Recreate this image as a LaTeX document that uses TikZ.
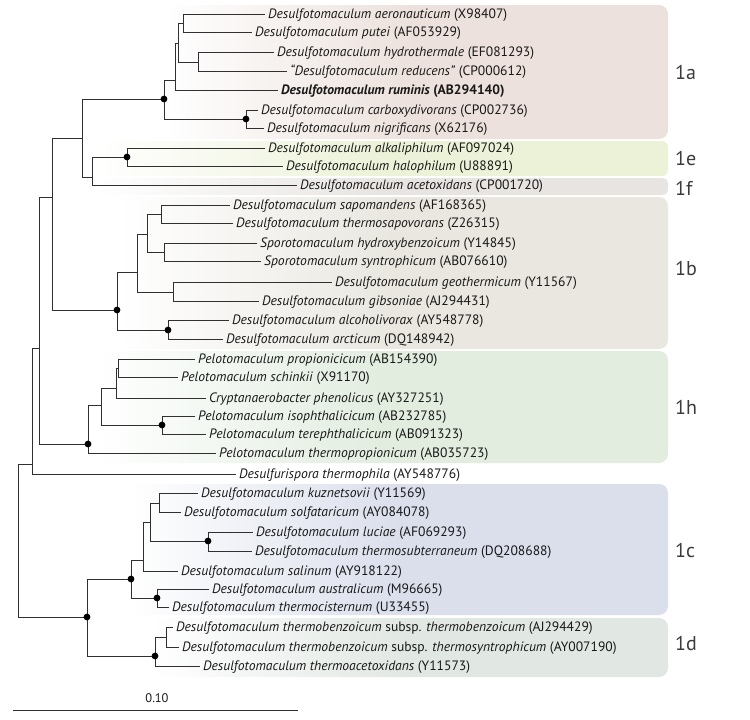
\documentclass[tikz,border=0pt]{standalone}
\usepackage{fontspec}
\setmainfont{PT Sans}
\newcommand{\taxon}[2]{\textit{#1} (#2)}
\definecolor{cA}{RGB}{236,225,220}
\definecolor{cE}{RGB}{236,242,216}
\definecolor{cF}{RGB}{232,228,226}
\definecolor{cB}{RGB}{233,231,224}
\definecolor{cH}{RGB}{226,237,224}
\definecolor{cC}{RGB}{219,223,236}
\definecolor{cD}{RGB}{225,231,227}
\definecolor{ink}{RGB}{25,25,25}
\begin{document}
\begin{tikzpicture}[x=1pt,y=-1pt,
  br/.style={draw=ink!90, line width=0.8pt},
  leaf/.style={anchor=west, inner xsep=3pt, inner ysep=0pt, text=ink,
    font=\fontsize{13.6}{15}\selectfont, text height=9.8pt, text depth=0.2pt},
  clade/.style={anchor=west, inner sep=0pt, text=ink!85, font=\fontsize{20}{23}\selectfont},
  dot/.style={fill=black, circle, inner sep=0pt, minimum size=6.8pt},
  box/.style={rounded corners=9pt, left color=white, right color=#1, middle color=#1}
]
\useasboundingbox (0,0) rectangle (750,720);

% clade backgrounds
\shade[box=cA] (165,5) rectangle (668,139);
\shade[box=cE, rounded corners=6pt] (95,141) rectangle (668,176);
\shade[box=cF, rounded corners=5pt] (95,178) rectangle (668,195);
\shade[box=cB] (120,197) rectangle (668,349);
\shade[box=cH] (95,351) rectangle (668,463);
\shade[box=cC] (130,484) rectangle (668,615);
\shade[box=cD] (150,618) rectangle (668,677);

% clade labels
\node[clade] (k1a) at (675,72) {1a};
\node[clade] (k1e) at (675,158) {1e};
\node[clade] (k1f) at (675,188) {1f};
\node[clade] (k1b) at (675,268) {1b};
\node[clade] (k1h) at (675,407) {1h};
\node[clade] (k1c) at (675,550) {1c};
\node[clade] (k1d) at (675,643) {1d};

% leaves
\node[leaf] (l1) at (265,14) {\taxon{Desulfotomaculum aeronauticum}{X98407}};
\node[leaf] (l2) at (252,32) {\taxon{Desulfotomaculum putei}{AF053929}};
\node[leaf] (l3) at (274,52) {\taxon{Desulfotomaculum hydrothermale}{EF081293}};
\node[leaf] (l4) at (287,71) {\textit{“Desulfotomaculum reducens”} (CP000612)};
\node[leaf] (l5) at (278,90) {\bfseries\taxon{Desulfotomaculum ruminis}{AB294140}};
\node[leaf] (l6) at (258,110) {\taxon{Desulfotomaculum carboxydivorans}{CP002736}};
\node[leaf] (l7) at (264,128) {\taxon{Desulfotomaculum nigrificans}{X62176}};
\node[leaf] (l8) at (265,148) {\taxon{Desulfotomaculum alkaliphilum}{AF097024}};
\node[leaf] (l9) at (283,166) {\taxon{Desulfotomaculum halophilum}{U88891}};
\node[leaf] (l10) at (297,185) {\taxon{Desulfotomaculum acetoxidans}{CP001720}};
\node[leaf] (l11) at (230,205) {\taxon{Desulfotomaculum sapomandens}{AF168365}};
\node[leaf] (l12) at (233,223) {\taxon{Desulfotomaculum thermosapovorans}{Z26315}};
\node[leaf] (l13) at (257,243) {\taxon{Sporotomaculum hydroxybenzoicum}{Y14845}};
\node[leaf] (l14) at (261,261) {\taxon{Sporotomaculum syntrophicum}{AB076610}};
\node[leaf] (l15) at (332,282) {\taxon{Desulfotomaculum geothermicum}{Y11567}};
\node[leaf] (l16) at (259,301) {\taxon{Desulfotomaculum gibsoniae}{AJ294431}};
\node[leaf] (l17) at (229,320) {\taxon{Desulfotomaculum alcoholivorax}{AY548778}};
\node[leaf] (l18) at (223,339) {\taxon{Desulfotomaculum arcticum}{DQ148942}};
\node[leaf] (l19) at (195,359) {\taxon{Pelotomaculum propionicicum}{AB154390}};
\node[leaf] (l20) at (178,377) {\taxon{Pelotomaculum schinkii}{X91170}};
\node[leaf] (l21) at (206,398) {\taxon{Cryptanaerobacter phenolicus}{AY327251}};
\node[leaf] (l22) at (195,416) {\taxon{Pelotomaculum isophthalicicum}{AB232785}};
\node[leaf] (l23) at (206,434) {\taxon{Pelotomaculum terephthalicicum}{AB091323}};
\node[leaf] (l24) at (216,453) {\taxon{Pelotomaculum thermopropionicum}{AB035723}};
\node[leaf] (l25) at (236,474) {\taxon{Desulfurispora thermophila}{AY548776}};
\node[leaf] (l26) at (198,493) {\taxon{Desulfotomaculum kuznetsovii}{Y11569}};
\node[leaf] (l27) at (181,512) {\taxon{Desulfotomaculum solfataricum}{AY084078}};
\node[leaf] (l28) at (253,532) {\taxon{Desulfotomaculum luciae}{AF069293}};
\node[leaf] (l29) at (252,551) {\taxon{Desulfotomaculum thermosubterraneum}{DQ208688}};
\node[leaf] (l30) at (178,571) {\taxon{Desulfotomaculum salinum}{AY918122}};
\node[leaf] (l31) at (209,589) {\taxon{Desulfotomaculum australicum}{M96665}};
\node[leaf] (l32) at (169,607) {\taxon{Desulfotomaculum thermocisternum}{U33455}};
\node[leaf] (l33) at (173,627) {\textit{Desulfotomaculum thermobenzoicum} subsp. \textit{thermobenzoicum} (AJ294429)};
\node[leaf] (l34) at (179,647) {\textit{Desulfotomaculum thermobenzoicum} subsp. \textit{thermosyntrophicum} (AY007190)};
\node[leaf] (l35) at (200,666) {\taxon{Desulfotomaculum thermoacetoxidans}{Y11573}};

% internal nodes
\coordinate (n12) at (183,23);
\coordinate (n34) at (198,62);
\coordinate (nA) at (178,43);
\coordinate (nB) at (175,80);
\coordinate (nC) at (164,99);
\coordinate (nD) at (246,119);
\coordinate (nE) at (82,138);
\coordinate (nF) at (92,177);
\coordinate (nG) at (127,157);
\coordinate (nH) at (52,197);
\coordinate (nS) at (117,310);
\coordinate (nT) at (137,272);
\coordinate (nU) at (147,234);
\coordinate (nV) at (161,214);
\coordinate (nW) at (164,252);
\coordinate (nX) at (173,292);
\coordinate (nY) at (168,330);
\coordinate (nI) at (39,348);
\coordinate (nAA) at (118.5,368);
\coordinate (nAB) at (116.5,388);
\coordinate (nAC) at (101,405);
\coordinate (nIT) at (162,425);
\coordinate (nAD) at (88,444);
\coordinate (nJ) at (32,464);
\coordinate (root) at (18,540);
\coordinate (nL) at (87,617);
\coordinate (nM) at (131,579);
\coordinate (nO) at (143,560);
\coordinate (nR) at (150,522);
\coordinate (nP) at (159,503);
\coordinate (nQ) at (208,541);
\coordinate (nN) at (157,598);
\coordinate (nAF) at (155,656);
\coordinate (nAE) at (166,637);

% branches
\draw[br] (n12) |- (l1.west);  \draw[br] (n12) |- (l2.west);
\draw[br] (n34) |- (l3.west);  \draw[br] (n34) |- (l4.west);
\draw[br] (nA) |- (n12);       \draw[br] (nA) |- (n34);
\draw[br] (nB) |- (nA);        \draw[br] (nB) |- (l5.west);
\draw[br] (nD) |- (l6.west);   \draw[br] (nD) |- (l7.west);
\draw[br] (nC) |- (nB);        \draw[br] (nC) |- (nD);
\draw[br] (nG) |- (l8.west);   \draw[br] (nG) |- (l9.west);
\draw[br] (nF) |- (nG);        \draw[br] (nF) |- (l10.west);
\draw[br] (nE) |- (nC);        \draw[br] (nE) |- (nF);
\draw[br] (nV) |- (l11.west);  \draw[br] (nV) |- (l12.west);
\draw[br] (nW) |- (l13.west);  \draw[br] (nW) |- (l14.west);
\draw[br] (nU) |- (nV);        \draw[br] (nU) |- (nW);
\draw[br] (nX) |- (l15.west);  \draw[br] (nX) |- (l16.west);
\draw[br] (nT) |- (nU);        \draw[br] (nT) |- (nX);
\draw[br] (nY) |- (l17.west);  \draw[br] (nY) |- (l18.west);
\draw[br] (nS) |- (nT);        \draw[br] (nS) |- (nY);
\draw[br] (nH) |- (nE);        \draw[br] (nH) |- (nS);
\draw[br] (nAA) |- (l19.west); \draw[br] (nAA) |- (l20.west);
\draw[br] (nAB) |- (nAA);      \draw[br] (nAB) |- (l21.west);
\draw[br] (nIT) |- (l22.west); \draw[br] (nIT) |- (l23.west);
\draw[br] (nAC) |- (nAB);      \draw[br] (nAC) |- (nIT);
\draw[br] (nAD) |- (nAC);      \draw[br] (nAD) |- (l24.west);
\draw[br] (nI) |- (nH);        \draw[br] (nI) |- (nAD);
\draw[br] (nJ) |- (nI);        \draw[br] (nJ) |- (l25.west);
\draw[br] (nP) |- (l26.west);  \draw[br] (nP) |- (l27.west);
\draw[br] (nQ) |- (l28.west);  \draw[br] (nQ) |- (l29.west);
\draw[br] (nR) |- (nP);        \draw[br] (nR) |- (nQ);
\draw[br] (nO) |- (nR);        \draw[br] (nO) |- (l30.west);
\draw[br] (nN) |- (l31.west);  \draw[br] (nN) |- (l32.west);
\draw[br] (nM) |- (nO);        \draw[br] (nM) |- (nN);
\draw[br] (nAE) |- (l33.west); \draw[br] (nAE) |- (l34.west);
\draw[br] (nAF) |- (nAE);      \draw[br] (nAF) |- (l35.west);
\draw[br] (nL) |- (nM);        \draw[br] (nL) |- (nAF);
\draw[br] (root) |- (nJ);      \draw[br] (root) |- (nL);

% support dots
\foreach \p in {nC,nD,nG,nS,nY,nIT,nAD,nQ,nM,nN,nL,nAF}
  \node[dot] at (\p) {};

% scale bar
\coordinate (sbL) at (13,710);
\coordinate (sbR) at (298,710);
\draw[br] (sbL) -- (sbR);
\node[text=ink, font=\fontsize{12.5}{14}\selectfont] (sbT) at (157,698) {0.10};
\end{tikzpicture}
\end{document}
